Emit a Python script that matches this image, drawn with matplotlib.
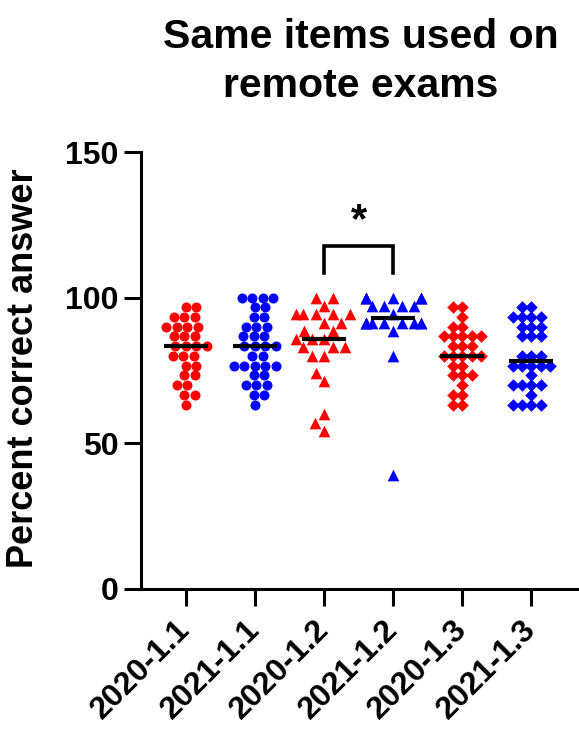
import matplotlib
matplotlib.use('Agg')
import matplotlib.pyplot as plt
import numpy as np
import pandas as pd
import seaborn as sns

plt.rcParams['font.family'] = ['Liberation Sans', 'DejaVu Sans']
plt.rcParams['font.weight'] = 'bold'

categories = ['2020-1.1', '2021-1.1', '2020-1.2', '2021-1.2', '2020-1.3', '2021-1.3']

g2020_11 = [96.7, 96.7, 93.3, 93.3, 93.3, 90, 90, 90, 90, 86.7, 86.7, 86.7,
            83.3, 83.3, 83.3, 83.3, 80, 80, 80, 76.7, 76.7, 73.3, 73.3,
            70, 70, 66.7, 66.7, 63.3]
g2021_11 = [100, 100, 100, 100, 96.7, 96.7, 93.3, 93.3, 90, 90, 90,
            86.7, 86.7, 86.7, 83.3, 83.3, 83.3, 83.3, 80, 80,
            76.7, 76.7, 76.7, 76.7, 76.7, 73.3, 73.3, 70, 70, 70,
            66.7, 66.7, 63.3]
g2020_12 = [100, 100, 97.1, 94.3, 94.3, 94.3, 94.3, 94.3, 91.4, 91.4,
            88.6, 88.6, 85.7, 85.7, 85.7, 82.9, 82.9, 82.9, 80, 80,
            74.3, 71.4, 60, 57.1, 54.3]
g2021_12 = [100, 100, 100, 100, 100, 100, 100, 97.1, 97.1, 97.1, 97.1, 94.3,
            91.4, 91.4, 91.4, 91.4, 91.4, 91.4, 91.4, 91.4, 91.4,
            88.6, 80, 39]
g2020_13 = [96.7, 96.7, 93.3, 90, 90, 86.7, 86.7, 86.7, 86.7, 86.7,
            83.3, 83.3, 83.3, 80, 80, 80, 80, 80, 76.7, 76.7,
            73.3, 73.3, 73.3, 70, 66.7, 66.7, 63.3, 63.3]
g2021_13 = [96.7, 96.7, 93.3, 93.3, 93.3, 93.3, 90, 90, 90, 86.7, 86.7, 86.7,
            80, 80, 80, 76.7, 76.7, 76.7, 76.7, 76.7, 73.3,
            70, 70, 70, 70, 66.7, 63.3, 63.3, 63.3, 63.3]

groups = [g2020_11, g2021_11, g2020_12, g2021_12, g2020_13, g2021_13]
colors = ['#ff0000', '#0000ff', '#ff0000', '#0000ff', '#ff0000', '#0000ff']
markers = ['o', 'o', '^', '^', 'D', 'D']
sizes = [7.2, 7.2, 8.4, 8.4, 6.4, 6.4]

W, H = 579, 729
fig = plt.figure(figsize=(W / 100, H / 100), dpi=100)
ax = fig.add_axes([141 / W, (H - 589) / H, 1 - 141 / W, (589 - 152) / H])

for cat, vals, c, m, s in zip(categories, groups, colors, markers, sizes):
    sns.swarmplot(x=[cat] * len(vals), y=vals, order=categories, color=c,
                  marker=m, size=s, linewidth=0, ax=ax, zorder=3)

for i, vals in enumerate(groups):
    med = np.median(vals)
    ax.hlines(med, i - 0.32, i + 0.32, color='black', lw=3, zorder=4)

# significance bracket
ax.plot([2, 2, 3, 3], [108.5, 117.6, 117.6, 108.5], color='black', lw=2.6,
        solid_joinstyle='miter', zorder=5, clip_on=False)
ax.text(2.5, 122.5, '*', ha='center', va='baseline', fontsize=30,
        fontweight='bold')

ax.set_ylim(0, 150)
ax.set_xlim(-0.65, 5.69)
ax.set_yticks([0, 50, 100, 150])
ax.set_xticks(range(len(categories)))
ax.set_xticklabels(categories, rotation=45, ha='right', va='center',
                   rotation_mode='anchor', fontsize=23, fontweight='bold')
ax.tick_params(axis='y', labelsize=23, length=12, width=2.2, pad=4)
ax.tick_params(axis='x', length=12, width=2.2, pad=14)
for lab in ax.get_yticklabels():
    lab.set_fontweight('bold')
ax.set_xlabel('')
ax.set_ylabel('')
for sp in ['top', 'right']:
    ax.spines[sp].set_visible(False)
for sp in ['left', 'bottom']:
    ax.spines[sp].set_linewidth(2.2)

fig.text(24 / W, 1 - 368 / H, 'Percent correct answer', rotation=90,
         ha='center', va='center', fontsize=26, fontweight='bold')
fig.text(361 / W, 1 - 48 / H, 'Same items used on', ha='center',
         va='baseline', fontsize=29.5, fontweight='bold')
fig.text(361 / W, 1 - 97 / H, 'remote exams', ha='center',
         va='baseline', fontsize=29.5, fontweight='bold')

fig.savefig('out.png', dpi=100)
